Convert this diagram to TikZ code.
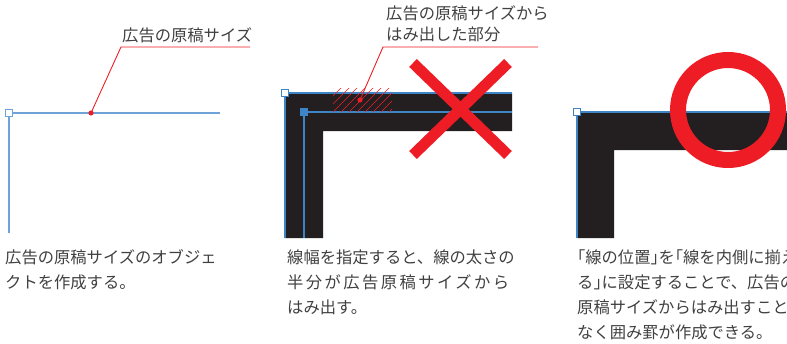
\documentclass[tikz,border=0pt]{standalone}
\usepackage{fontspec}
\setmainfont{Noto Sans CJK JP}
\usepackage{xcolor}
\usepackage{tikz}
\definecolor{markred}{HTML}{EE1C25}
\definecolor{guideblue}{HTML}{3D85C6}
\definecolor{guidelight}{HTML}{6FA3D8}
\definecolor{rulefill}{HTML}{231F20}
\definecolor{captext}{HTML}{404040}
\newcommand{\hw}[1]{{\addfontfeatures{RawFeature=+halt}#1}}

\begin{document}
\begin{tikzpicture}[x=1pt,y=-1pt,
  guide/.style={draw=guideblue, line width=1.2pt},
  lead/.style={draw=markred, line width=0.9pt},
  handle/.style={draw=guideblue, fill=white, line width=1pt, minimum size=6.5pt, inner sep=0pt},
  txt/.style={anchor=base west, inner sep=0pt, text=captext, font=\fontsize{16.3}{25}\selectfont}]
\useasboundingbox (0,0) rectangle (787,343);
\clip (0,0) rectangle (787,343);

% panel 1
\coordinate [] (A1) at (9,113);
\coordinate [] (B1) at (220,113);
\coordinate [] (C1) at (9,233);
\coordinate [] (d1) at (91,113);
\coordinate [] (k1) at (121,47);
\coordinate [] (e1) at (250,47);
\draw[guide, draw=guidelight, line width=1.6pt] (C1) -- (A1) -- (B1);
\node[handle, draw=guidelight] (h1) at (A1) {};
\draw[lead] (d1) -- (k1) -- (e1);
\fill[markred] (d1) circle (2.6pt);
\node[txt] (lab1) at (122,41) {広告の原稿サイズ};
\node[txt] (cap1a) at (5,263) {広告の原稿サイズのオブジェ};
\node[txt] (cap1b) at (5,288) {クトを作成する。};

% panel 2
\fill[rulefill] (285,93) -- (512,93) -- (512,131) -- (323,131) -- (323,238) -- (285,238) -- cycle;
\coordinate [] (A2) at (285,93);
\coordinate [] (I2) at (304,112);
\draw[guide] (285,238) -- (A2) -- (512,93);
\draw[guide] (304,238) -- (I2) -- (512,112);
\begin{scope}
\clip (333,88) rectangle (392,112);
\foreach \k in {0,...,10}
  \draw[lead, line width=0.6pt] (309+\k*8,112) -- ++(26,-26);
\end{scope}
\node[handle] (h2) at (A2) {};
\node[handle, fill=guideblue] (h2i) at (I2) {};
\coordinate [] (d2) at (360,100);
\coordinate [] (k2) at (383,47);
\coordinate [] (e2) at (538,47);
\draw[lead] (d2) -- (k2) -- (e2);
\fill[markred] (d2) circle (2.6pt);
\node[txt] (lab2a) at (386,19) {広告の原稿サイズから};
\node[txt] (lab2b) at (386,40) {はみ出した部分};
\coordinate [] (x1) at (413,63);
\coordinate [] (x2) at (508,155);
\coordinate [] (x3) at (413,155);
\coordinate [] (x4) at (508,63);
\draw[markred, line width=11pt] (x1) -- (x2) (x3) -- (x4);
\node[txt] (cap2a) at (287,263) {線幅を指定すると、線の太さの};
\node[txt, font=\fontsize{16.3}{25}\selectfont\addfontfeatures{LetterSpace=15}] (cap2b) at (287,288) {半分が広告原稿サイズから};
\node[txt] (cap2c) at (287,313) {はみ出す。};

% panel 3
\fill[rulefill] (577,112) -- (787,112) -- (787,150) -- (614,150) -- (614,238) -- (577,238) -- cycle;
\coordinate [] (A3) at (577,112);
\draw[guide] (577,238) -- (A3) -- (787,112);
\node[handle] (h3) at (A3) {};
\draw[markred, line width=16pt] (728,110) circle (50pt);
\node[txt] (cap3a) at (577,263) {\hw{「}線の位置\hw{」}を\hw{「}線を内側に揃える};
\node[txt] (cap3b) at (577,288) {る\hw{」}に設定することで、広告の};
\node[txt] (cap3c) at (577,313) {原稿サイズからはみ出すこと};
\node[txt] (cap3d) at (577,338) {なく囲み罫が作成できる。};
\end{tikzpicture}
\end{document}
